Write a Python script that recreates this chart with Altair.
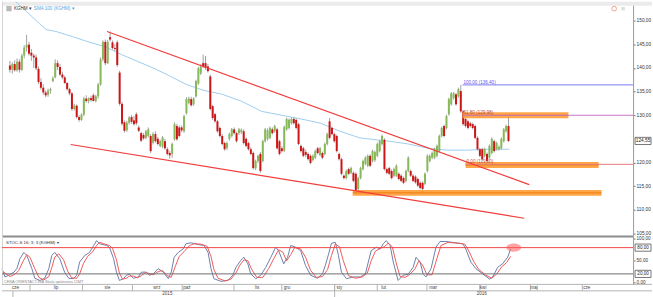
import altair as alt
import pandas as pd

FONT = "Liberation Sans"

# ---------------- price candles (KGHM, daily) ----------------
opens = [140.5,139.6,140.8,139.5,141.3,139.6,142.6,144.3,144.9,143.2,
         142.6,142.2,139.8,137.0,135.8,134.8,134.3,135.2,137.2,138.0,
         141.0,140.2,138.6,138.0,136.8,135.5,134.6,131.3,132.0,129.6,
         129.0,130.1,133.5,133.0,133.6,134.2,133.0,134.0,136.5,141.8,
         145.5,141.0,146.5,145.4,144.2,145.4,139.0,132.4,128.5,126.8,
         128.4,129.6,128.9,130.2,127.4,126.2,125.8,125.2,125.6,125.6,
         124.2,126.0,125.0,123.5,123.3,124.5,122.8,122.0,121.8,124.9,
         127.7,127.4,127.4,126.6,130.4,132.6,133.4,132.3,134.0,136.7,
         138.8,141.0,141.0,140.3,138.2,131.9,130.2,128.7,127.3,125.6,
         124.1,123.1,125.0,125.6,127.0,126.2,126.2,126.4,126.6,125.0,
         124.1,122.8,122.0,118.8,120.3,121.8,120.3,124.5,125.0,125.2,
         127.0,126.6,127.0,124.5,123.0,122.5,127.0,127.3,128.3,129.2,
         129.0,128.1,123.5,123.0,122.2,121.8,121.4,120.5,121.0,123.0,
         121.6,122.0,121.8,123.9,128.7,127.3,126.0,125.6,121.8,120.7,
         117.2,116.7,118.6,117.8,117.8,117.6,114.4,116.7,118.6,119.7,
         119.3,121.4,120.3,120.5,121.4,122.4,123.9,124.8,118.6,118.8,
         118.2,117.2,117.2,117.6,117.2,116.7,116.1,118.2,118.2,117.2,
         117.0,116.5,115.7,115.7,115.5,118.2,120.3,121.0,121.0,121.4,
         122.4,125.6,127.7,127.3,130.2,132.3,133.6,134.4,134.0,135.1,
         130.8,129.2,128.7,128.3,128.1,127.7,125.2,122.8,122.8,121.4,
         121.8,121.0,122.0,124.5,122.8,122.8,123.0,124.5,126.6,127.7]
highs = [141.5,141.2,141.6,142.0,141.8,143.0,144.8,147.0,145.5,144.0,
         143.0,142.8,140.3,137.8,136.5,135.2,135.6,135.8,138.2,141.8,
         141.6,140.8,139.2,138.4,137.0,135.8,134.9,132.4,132.3,130.0,
         130.4,133.9,134.2,133.8,134.1,134.6,134.3,136.8,142.2,145.8,
         146.0,145.9,147.7,145.8,145.0,145.8,139.4,132.8,128.9,128.8,
         129.8,130.0,129.8,130.6,127.8,126.5,126.2,126.9,127.4,126.0,
         126.4,126.6,125.4,124.8,125.6,125.0,123.2,122.4,124.2,128.5,
         128.2,127.8,127.8,130.1,133.8,133.9,133.9,133.8,137.5,140.2,
         140.8,142.8,142.5,140.8,138.6,132.2,130.5,129.0,127.6,126.0,
         124.4,124.4,126.3,127.3,127.4,126.5,127.3,127.2,127.0,125.3,
         124.4,123.2,122.3,120.6,121.6,122.2,124.8,127.3,127.2,127.6,
         127.4,128.0,127.3,124.8,123.4,127.8,129.5,129.3,129.5,129.6,
         129.3,128.4,123.8,123.3,122.7,122.1,121.7,121.7,122.7,123.3,
         123.3,122.3,124.2,126.3,129.4,127.6,126.3,125.9,122.1,121.0,
         117.5,118.5,118.9,119.1,118.1,117.9,117.0,119.1,120.6,121.3,
         121.7,121.7,122.7,122.5,124.2,124.8,125.9,125.1,118.9,119.1,
         118.5,118.9,119.6,117.9,117.5,117.0,118.5,121.3,118.5,117.5,
         117.3,116.8,116.0,116.0,117.9,121.7,121.7,122.3,123.1,123.8,
         125.9,127.6,128.0,130.1,133.7,134.9,134.9,134.7,135.8,136.4,
         131.1,129.5,129.0,128.6,128.4,128.0,125.5,123.1,123.1,123.1,
         122.1,123.8,125.3,124.8,124.4,123.6,125.3,127.3,128.0,130.0]
lows = [139.0,138.8,139.2,139.2,139.0,139.3,142.0,143.5,142.6,141.5,
        140.0,139.5,136.6,135.4,134.3,133.8,133.9,134.5,137.0,137.8,
        139.5,138.3,137.6,136.6,135.2,134.2,130.9,131.0,129.3,128.6,
        128.8,129.8,132.6,132.5,132.8,132.9,132.7,133.5,136.2,141.4,
        140.6,140.8,145.6,143.9,143.6,140.2,132.0,127.8,126.3,126.5,
        128.0,128.2,127.8,127.9,126.4,124.3,124.8,124.9,125.3,122.0,
        123.8,124.2,123.6,123.2,123.0,122.7,121.5,120.8,121.0,124.6,
        124.6,125.3,126.4,126.3,130.1,132.3,131.8,132.0,133.7,136.4,
        138.5,140.0,139.6,139.0,131.0,129.0,128.4,126.3,125.3,123.6,
        122.5,122.6,124.6,125.3,125.9,124.2,125.8,126.0,123.8,123.2,
        122.5,121.5,118.5,118.4,119.9,117.8,120.0,124.2,124.6,124.9,
        125.9,126.3,122.7,121.5,122.1,122.2,126.7,127.0,128.0,128.0,
        127.0,123.6,122.1,121.1,121.1,120.4,119.6,120.2,120.7,121.7,
        121.3,120.7,121.5,123.6,124.9,125.7,124.2,122.1,120.4,117.3,
        116.4,116.4,117.3,117.5,115.8,113.4,114.1,116.4,118.3,119.4,
        119.0,119.0,120.0,120.1,121.1,122.1,123.6,118.3,117.5,117.3,
        116.4,116.9,116.9,116.2,115.8,115.4,115.8,117.9,116.9,115.8,
        115.5,114.8,114.3,113.5,115.2,117.9,120.0,120.7,120.7,121.1,
        122.1,125.3,125.3,127.0,129.9,132.0,133.3,132.0,133.7,130.5,
        127.8,127.4,127.0,127.4,127.0,124.9,122.5,121.1,120.4,121.1,
        119.6,120.7,121.7,122.1,122.5,122.5,122.7,124.2,126.3,124.3]
closes = [139.6,140.8,139.5,141.3,139.6,142.6,144.3,144.9,143.0,142.6,
          142.2,139.9,137.0,135.8,134.8,134.2,135.2,135.5,137.8,141.0,
          140.2,138.6,138.0,136.8,135.5,134.6,131.3,132.0,129.6,129.0,
          130.1,133.5,133.0,133.6,133.2,133.0,134.0,136.5,141.8,145.5,
          141.0,145.5,146.0,144.2,144.0,140.6,132.4,128.2,126.7,128.4,
          129.5,128.6,128.1,128.3,126.7,124.6,125.1,126.6,127.0,122.4,
          126.0,124.5,123.9,124.5,125.3,123.0,121.8,121.5,123.9,128.1,
          124.9,125.6,126.8,129.8,133.4,133.5,132.1,133.5,137.2,139.9,
          140.3,140.3,140.0,139.3,131.3,129.4,128.7,126.6,125.6,123.9,
          122.8,124.1,126.0,127.0,126.2,124.5,127.0,126.9,124.1,123.5,
          122.8,121.8,118.8,120.3,121.4,118.2,124.5,127.0,126.8,127.3,
          126.2,127.7,123.0,121.8,122.4,127.5,129.2,129.0,129.2,128.3,
          127.3,123.9,122.4,121.4,121.6,120.7,119.9,121.4,122.4,122.0,
          123.0,121.0,123.9,126.0,125.2,126.0,124.5,122.4,120.7,117.6,
          116.7,118.2,117.6,118.8,116.1,114.0,116.7,118.8,120.3,121.0,
          121.4,119.3,122.4,122.2,123.9,124.5,125.6,118.6,117.8,117.6,
          116.7,118.6,119.3,116.5,116.1,115.7,118.2,121.0,117.2,116.1,
          115.8,115.1,114.6,114.4,117.6,121.4,121.4,122.0,122.8,123.5,
          125.6,127.3,125.6,129.8,133.4,134.6,134.6,132.3,135.5,130.8,
          128.1,127.7,127.3,127.7,127.3,125.2,122.8,121.4,120.7,122.8,
          120.3,123.5,125.0,122.4,124.1,123.3,125.0,127.0,127.7,124.55]

# SMA 100 (sampled along the curve): candle index, price
sma_i = [2.0, 7.0, 12.3, 15.2, 19.3, 26.3, 32.9, 39.8, 46.8, 53.4, 60.4, 67.4, 73.9, 80.9,
         89.1, 97.3, 105.5, 113.8, 122.0, 130.2, 138.4, 146.6, 154.8, 158.9, 167.1, 175.4,
         183.6, 191.8, 200.0, 209.4]
sma_p = [154.2, 151.9, 149.4, 148.1, 147.7, 146.6, 145.5, 144.5, 142.8, 141.4, 139.9, 138.2,
         136.5, 135.3, 134.4, 132.9, 130.8, 130.0, 129.2, 128.3, 126.6, 125.2, 124.7, 124.5,
         123.9, 123.0, 122.6, 122.6, 122.8, 122.8]

# trend lines
trend_id = ["upper", "upper", "lower", "lower"]
trend_i = [40.7, 217.7, 25.5, 215.6]
trend_p = [147.7, 115.3, 123.8, 108.2]

# Fibonacci levels
fib_text = ["100,00 (136,40)", "61,80 (129,98)", "0,00 (119,60)"]
fib_price = [136.40, 129.98, 119.60]
fib_start = [189.7, 189.7, 191.0]
fib_line_color = ["#7b7bf5", "#c877c8", "#e57a7a"]
fib_text_color = ["#5a5ae8", "#b34a4a", "#c44a4a"]

# orange zones
zone_start = [189.7, 191.0, 143.7]
zone_end = [234.1, 246.8, 248.0]
zone_lo = [129.37, 118.84, 112.95]
zone_hi = [130.63, 120.10, 114.20]

last_price = [124.55]
price_ticks = [105, 110, 115, 120, 130, 135, 140, 145, 150]

# ---------------- stochastic 16;3;3 ----------------
k_i = [-1.2, 0.0, 1.6, 3.7, 4.9, 6.2, 7.8, 9.0, 11.1, 12.3, 14.4, 16.4, 18.1, 19.3, 20.5, 22.6,
       24.6, 26.3, 28.3, 29.6, 30.8, 32.9, 34.9, 36.6, 37.8, 39.0, 41.9, 43.1, 44.8, 46.0, 47.2,
       48.9, 50.1, 51.3, 53.0, 55.0, 56.3, 58.3, 59.5, 61.2, 63.2, 65.3, 67.4, 68.6, 69.8, 71.5,
       73.5, 74.7, 76.8, 79.7, 82.1, 83.8, 85.0, 86.2, 89.1, 92.0, 94.0, 95.3, 97.3, 98.6, 100.2,
       101.4, 103.5, 105.5, 107.6, 109.7, 111.7, 112.9, 115.0, 116.6, 117.9, 119.9, 122.0, 124.0,
       126.1, 128.9, 131.0, 132.2, 133.5, 134.7, 136.3, 137.6, 138.8, 140.9, 143.7, 146.6, 148.7,
       149.9, 151.1, 153.2, 154.8, 156.1, 157.3, 158.9, 160.2, 162.2, 164.3, 166.3, 168.4, 169.6,
       171.3, 172.5, 173.7, 175.8, 177.8, 179.5, 181.9, 186.0, 188.9, 190.1, 192.2, 194.3, 197.1,
       200.0, 201.2, 203.3, 205.3, 207.4, 208.6]
k_val = [32, 13, 17, 24, 32, 55, 69, 62, 32, 10, 5, 10, 32, 62, 69, 55,
         24, 10, 9, 17, 47, 62, 69, 85, 96, 89, 85, 81, 55, 24, 5,
         9, 17, 19, 10, 13, 24, 24, 17, 20, 32, 24, 9, 24, 58, 69,
         77, 89, 91, 87, 85, 69, 32, 9, 3, 5, 17, 35, 51, 58, 43,
         20, 9, 17, 35, 58, 81, 73, 43, 58, 85, 81, 73, 39,
         17, 10, 20, 40, 65, 90, 92, 62, 24, 9, 13, 13, 20,
         47, 73, 81, 77, 89, 96, 85, 47, 5, 17, 19, 35, 58,
         47, 20, 13, 32, 81, 94, 94, 91, 89, 77, 47, 32, 20,
         8, 13, 35, 43, 58, 77]
d_i = [-1.2, 0.0, 2.1, 4.1, 5.7, 7.4, 9.0, 10.3, 12.3, 14.0, 16.0, 18.1, 19.3, 20.5, 22.2, 24.2,
       25.9, 27.5, 29.6, 30.8, 32.4, 34.1, 36.1, 37.8, 39.0, 40.7, 43.1, 44.4, 46.0, 47.2, 48.5,
       50.1, 51.3, 53.0, 54.6, 56.3, 57.9, 59.5, 61.2, 63.2, 64.9, 66.9, 68.6, 70.2, 71.9, 73.9,
       76.0, 78.0, 80.9, 83.4, 85.0, 86.2, 87.9, 90.8, 93.2, 95.3, 96.9, 98.6, 100.2, 101.8, 103.9,
       106.4, 108.8, 110.9, 112.9, 114.6, 116.2, 117.9, 119.5, 122.0, 124.0, 126.1, 128.5, 131.0,
       133.1, 134.7, 136.3, 138.0, 139.6, 141.7, 144.6, 147.4, 149.5, 151.1, 152.8, 154.8, 156.5,
       158.1, 159.8, 161.4, 163.0, 165.1, 167.1, 169.2, 170.8, 172.5, 174.1, 176.2, 178.2, 179.9,
       182.8, 186.9, 189.7, 191.4, 193.4, 195.5, 198.4, 200.8, 202.9, 204.9, 207.0, 208.6]
d_val = [25, 22, 14, 19, 28, 48, 64, 58, 32, 12, 6, 14, 34, 58, 66, 52,
         26, 11, 10, 20, 44, 60, 70, 85, 92, 89, 85, 78, 52, 22, 8,
         10, 15, 15, 11, 16, 23, 21, 18, 25, 28, 16, 12, 36, 60, 71,
         84, 89, 88, 83, 60, 30, 10, 4, 8, 22, 40, 52, 50, 30, 12,
         12, 32, 55, 75, 70, 50, 64, 80, 77, 58, 28, 12, 14,
         30, 62, 88, 82, 50, 16, 10, 13, 22, 50, 72, 78,
         82, 90, 82, 45, 14, 12, 19, 32, 50, 38, 18, 18, 55,
         85, 92, 90, 88, 72, 48, 30, 17, 10, 20, 36, 46, 60]
stoch_levels = [80, 20]
stoch_ticks = [0, 50, 100]
stoch_signal = [(209.9, 80.2)]

# ---------------- time axis ----------------
month_sep = [10.3, 32.0, 52.6, 73.1, 94.5, 114.2, 136.0, 153.6, 174.1, 195.9, 216.8, 238.2]
month_names = ["cze", "lip", "sie", "wrz", "paź", "lis", "gru", "sty", "lut", "mar", "kwi", "maj", "cze"]
month_label_i = [2.9, 20.1, 41.1, 61.2, 73.5, 103.1, 115.0, 136.8, 155.2, 175.0, 195.9, 216.8, 238.6]
year_sep = [3.3, 136.0]
year_names = ["2015", "2016"]
year_label_i = [67.0, 196.7]

# =====================================================================
W = 634
XDOM = [-1.23, 259.14]
xs = alt.Scale(domain=XDOM, nice=False, zero=False)
ys = alt.Scale(domain=[104.53, 154.0], nice=False, zero=False)
yst = alt.Scale(domain=[-4.0, 107.5], nice=False, zero=False)
LBL = "replace(format(datum.value, '.2f'), '.', ',')"

candles = pd.DataFrame({"i": list(range(len(opens))), "open": opens, "high": highs,
                        "low": lows, "close": closes})
candles["dir"] = ["up" if c >= o else "down" for o, c in zip(opens, closes)]

def label(text, x, y, color="#333333", size=4.6, align="left", baseline="middle"):
    return alt.Chart(pd.DataFrame({"t": [text]})).mark_text(
        align=align, baseline=baseline, fontSize=size, color=color, font=FONT
    ).encode(x=alt.value(x), y=alt.value(y), text="t:N")

yaxis_main = alt.Axis(orient="right", values=price_ticks, labelExpr=LBL, labelFontSize=4.8,
                      labelFont=FONT, labelColor="#333333", tickSize=2, tickColor="#777777",
                      domainColor="#999999", labelPadding=1, grid=False, title=None)
yaxis_st = alt.Axis(orient="right", values=stoch_ticks, labelExpr=LBL, labelFontSize=4.6,
                    labelFont=FONT, labelColor="#333333", tickSize=2, tickColor="#777777",
                    domainColor="#999999", labelPadding=1, grid=False, title=None)

def YM(field):
    return alt.Y(field, scale=ys, axis=yaxis_main)

def YS(field):
    return alt.Y(field, scale=yst, axis=yaxis_st)

def X(field):
    return alt.X(field, scale=xs, axis=None)

header = alt.Chart(pd.DataFrame({"a": [0]})).mark_rect(color="#ebebeb").encode(
    x=alt.value(0), x2=alt.value(653), y=alt.value(0), y2=alt.value(4))
left_border = alt.Chart(pd.DataFrame({"a": [0]})).mark_rule(color="#d4d4d4").encode(
    x=alt.value(0.5), y=alt.value(0), y2=alt.value(235))

wicks = alt.Chart(candles).mark_rule(color="#a0a0a0", strokeWidth=1).encode(
    x=X("i:Q"), y=YM("low:Q"), y2="high:Q")
bodies = alt.Chart(candles).mark_bar(size=2).encode(
    x=X("i:Q"), y=YM("open:Q"), y2="close:Q",
    color=alt.Color("dir:N", scale=alt.Scale(domain=["up", "down"], range=["#86b957", "#cc1616"]),
                    legend=None))

sma = alt.Chart(pd.DataFrame({"i": sma_i, "p": sma_p})).mark_line(
    color="#9fcdee", strokeWidth=1, clip=True).encode(x=X("i:Q"), y=YM("p:Q"))

trends = alt.Chart(pd.DataFrame({"id": trend_id, "i": trend_i, "p": trend_p})).mark_line(
    color="#f23c3c", strokeWidth=1.2).encode(x=X("i:Q"), y=YM("p:Q"), detail="id:N")

fib_df = pd.DataFrame({"t": fib_text, "p": fib_price, "i": fib_start,
                       "lc": fib_line_color, "tc": fib_text_color})
fib_lines = alt.Chart(fib_df).mark_rule(strokeWidth=1).encode(
    x=X("i:Q"), x2=alt.value(W), y=YM("p:Q"), color=alt.Color("lc:N", scale=None))

zone_df = pd.DataFrame({"a": zone_start, "b": zone_end, "lo": zone_lo, "hi": zone_hi})
zone_df["mid"] = [(l + h) / 2 for l, h in zip(zone_lo, zone_hi)]
zones = alt.Chart(zone_df).mark_rect(color="#ff9a30", opacity=0.88).encode(
    x=X("a:Q"), x2="b:Q", y=YM("lo:Q"), y2="hi:Q")
zone_mid = alt.Chart(zone_df).mark_rule(color="#ea7300", strokeWidth=1, opacity=0.8).encode(
    x=X("a:Q"), x2="b:Q", y=YM("mid:Q"))

fib_labels = alt.Chart(fib_df).mark_text(align="left", baseline="bottom", fontSize=4.6,
                                         font=FONT, dx=1, dy=0).encode(
    x=X("i:Q"), y=YM("p:Q"), text="t:N", color=alt.Color("tc:N", scale=None))

BOX = "M-1,-0.45L1,-0.45L1,0.45L-1,0.45Z"
price_box = alt.Chart(pd.DataFrame({"p": last_price})).mark_point(
    shape=BOX, size=256, filled=True, fill="white", stroke="#555555", strokeWidth=0.8,
    opacity=1).encode(x=alt.value(644), y=YM("p:Q"))
price_txt = alt.Chart(pd.DataFrame({"p": last_price})).transform_calculate(
    t=LBL.replace("datum.value", "datum.p")).mark_text(
    fontSize=4.8, font=FONT, color="#222222", align="center", baseline="middle").encode(
    x=alt.value(644), y=YM("p:Q"), text="t:N")

icons = alt.layer(
    alt.Chart(pd.DataFrame({"a": [0]})).mark_point(shape="square", size=28, filled=True,
                                                   color="#9a9a9a").encode(
        x=alt.value(7), y=alt.value(7)),
    alt.Chart(pd.DataFrame({"a": [0]})).mark_point(shape="circle", size=22, filled=False,
                                                   color="#e0805a", strokeWidth=1).encode(
        x=alt.value(615), y=alt.value(7)),
    alt.Chart(pd.DataFrame({"a": [0]})).mark_point(shape="square", size=12, filled=True,
                                                   color="#cfcfcf").encode(
        x=alt.value(624), y=alt.value(7)),
)

main = alt.layer(
    header, left_border, sma, wicks, bodies, zones, zone_mid, fib_lines, trends, fib_labels,
    price_box, price_txt, icons,
    label("KGHM ▾", 12, 7, "#333333"),
    label("SMA 100 (KGHM) ▾", 32, 7, "#5aa0dc"),
).properties(width=W, height=235)

# ---------------- stochastic panel ----------------
k_line = alt.Chart(pd.DataFrame({"i": k_i, "v": k_val})).mark_line(
    color="#6c7fab", strokeWidth=1).encode(x=X("i:Q"), y=YS("v:Q"))
d_line = alt.Chart(pd.DataFrame({"i": d_i, "v": d_val})).mark_line(
    color="#f05a5a", strokeWidth=1).encode(x=X("i:Q"), y=YS("v:Q"))
lvl_df = pd.DataFrame({"v": stoch_levels, "c": ["#ee4646", "#6f6f6f"]})
levels = alt.Chart(lvl_df).mark_rule(strokeWidth=1).encode(
    x=alt.value(0), x2=alt.value(W), y=YS("v:Q"), color=alt.Color("c:N", scale=None))
lvl_box = alt.Chart(lvl_df).mark_point(shape=BOX, size=256, filled=True, fill="white",
                                       stroke="#555555", strokeWidth=0.8, opacity=1).encode(
    x=alt.value(644), y=YS("v:Q"))
lvl_txt = alt.Chart(lvl_df).transform_calculate(
    t=LBL.replace("datum.value", "datum.v")).mark_text(
    fontSize=4.6, font=FONT, color="#222222", align="center", baseline="middle").encode(
    x=alt.value(644), y=YS("v:Q"), text="t:N")
ELL = "M-1,0A1,0.55,0,1,1,1,0A1,0.55,0,1,1,-1,0Z"
signal = alt.Chart(pd.DataFrame({"i": [s[0] for s in stoch_signal],
                                 "v": [s[1] for s in stoch_signal]})).mark_point(
    shape=ELL, size=225, filled=True, color="#ff5a5a", opacity=0.55).encode(
    x=X("i:Q"), y=YS("v:Q"))
sep = alt.Chart(pd.DataFrame({"a": [0]})).mark_rule(color="#8c8c8c", strokeWidth=2).encode(
    x=alt.value(0), x2=alt.value(W), y=alt.value(1))
left_border2 = alt.Chart(pd.DataFrame({"a": [0]})).mark_rule(color="#d4d4d4").encode(
    x=alt.value(0.5), y=alt.value(0), y2=alt.value(49))

stoch = alt.layer(
    k_line, d_line, sep, left_border2, levels, signal, lvl_box, lvl_txt,
    label("STOC-S 16; 3; 3 (KGHM) ▾", 4, 7, "#333333", 4.4),
    label("CENA ORIENTACYJNA    Skala opóźniona 15MT", 2, 47, "#8a8a8a", 3.8),
).properties(width=W, height=49)

# ---------------- time band ----------------
rows = alt.Scale(domain=[0, 2], nice=False, zero=False)
def YR(field):
    return alt.Y(field, scale=rows, axis=None)

hl = alt.Chart(pd.DataFrame({"r": [2, 1]})).mark_rule(color="#b3b3b3").encode(
    x=alt.value(0), x2=alt.value(653), y=YR("r:Q"))
msep = alt.Chart(pd.DataFrame({"i": month_sep, "r0": [1] * len(month_sep),
                               "r1": [2] * len(month_sep)})).mark_rule(color="#b3b3b3").encode(
    x=X("i:Q"), y=YR("r0:Q"), y2="r1:Q")
ysep = alt.Chart(pd.DataFrame({"i": year_sep, "r0": [0, 0], "r1": [1, 2]})).mark_rule(
    color="#b3b3b3").encode(x=X("i:Q"), y=YR("r0:Q"), y2="r1:Q")
mtxt = alt.Chart(pd.DataFrame({"i": month_label_i, "t": month_names,
                               "r": [1.5] * len(month_names)})).mark_text(
    align="left", baseline="middle", fontSize=4.6, font=FONT, color="#444444").encode(
    x=X("i:Q"), y=YR("r:Q"), text="t:N")
ytxt = alt.Chart(pd.DataFrame({"i": year_label_i, "t": year_names, "r": [0.5, 0.5]})).mark_text(
    align="center", baseline="middle", fontSize=4.6, font=FONT, color="#444444").encode(
    x=X("i:Q"), y=YR("r:Q"), text="t:N")

band = alt.layer(hl, msep, ysep, mtxt, ytxt).properties(width=W, height=13)

chart = alt.vconcat(main, stoch, band, spacing=0, bounds="flush").properties(
    padding=0, background="white").configure_view(stroke=None)

chart.save("out.html", embed_options={"renderer": "svg", "actions": False})
